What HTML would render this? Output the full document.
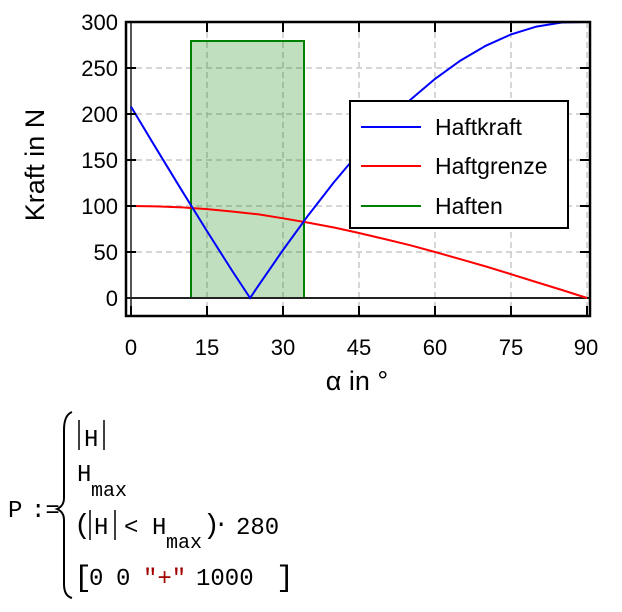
<!DOCTYPE html>
<html><head><meta charset="utf-8"><style>
html,body{margin:0;padding:0;background:#fff;width:622px;height:612px;overflow:hidden}
</style></head><body>
<svg width="622" height="612" xmlns="http://www.w3.org/2000/svg">
<g stroke="#c8c8c8" stroke-width="1.5" stroke-dasharray="6,4">
<line x1="207" y1="22" x2="207" y2="316"/><line x1="283" y1="22" x2="283" y2="316"/>
<line x1="359" y1="22" x2="359" y2="316"/><line x1="435" y1="22" x2="435" y2="316"/>
<line x1="511" y1="22" x2="511" y2="316"/><line x1="587" y1="22" x2="587" y2="316"/>
<line x1="126" y1="252" x2="590" y2="252"/><line x1="126" y1="206" x2="590" y2="206"/>
<line x1="126" y1="160" x2="590" y2="160"/><line x1="126" y1="114" x2="590" y2="114"/>
<line x1="126" y1="68" x2="590" y2="68"/>
</g>
<rect x="191" y="41" width="113" height="257" fill="rgba(0,128,0,0.25)" stroke="#008000" stroke-width="2"/>
<line x1="131" y1="22" x2="131" y2="316" stroke="#555" stroke-width="2"/>
<line x1="126" y1="298" x2="590" y2="298" stroke="#222" stroke-width="2"/>
<polyline fill="none" stroke="#f00" stroke-width="2" points="131,206 156,206.4 182,207.4 207,209.1 232,211.5 258,214.3 283,218.3 308,222.6 334,227.5 359,233 384,238.9 410,245.2 435,252 460,259.1 486,266.5 511,274.2 536,282 562,290 587,298"/>
<polyline fill="none" stroke="#00f" stroke-width="2" points="131,106.6 156.3,148.7 181.7,190.3 207,231.1 232.3,271 250.1,298 257.7,286.7 283,250 308.3,215.2 333.7,182.5 359,152.5 384.4,124.9 409.7,100.4 435,78.9 460.4,60.6 485.7,45.8 511,34.4 536.4,26.6 561.7,22.5 587,22"/>
<g stroke="#000" stroke-width="2">
<line x1="207" y1="22" x2="207" y2="32"/><line x1="283" y1="22" x2="283" y2="32"/><line x1="359" y1="22" x2="359" y2="32"/><line x1="435" y1="22" x2="435" y2="32"/><line x1="511" y1="22" x2="511" y2="32"/>
<line x1="131" y1="316" x2="131" y2="306"/><line x1="207" y1="316" x2="207" y2="306"/><line x1="283" y1="316" x2="283" y2="306"/><line x1="359" y1="316" x2="359" y2="306"/><line x1="435" y1="316" x2="435" y2="306"/><line x1="511" y1="316" x2="511" y2="306"/><line x1="587" y1="316" x2="587" y2="306"/>
<line x1="126" y1="252" x2="136" y2="252"/><line x1="126" y1="206" x2="136" y2="206"/><line x1="126" y1="160" x2="136" y2="160"/><line x1="126" y1="114" x2="136" y2="114"/><line x1="126" y1="68" x2="136" y2="68"/>
<line x1="590" y1="252" x2="580" y2="252"/><line x1="590" y1="206" x2="580" y2="206"/><line x1="590" y1="160" x2="580" y2="160"/><line x1="590" y1="114" x2="580" y2="114"/><line x1="590" y1="68" x2="580" y2="68"/>
</g>
<rect x="126" y="22" width="464" height="294" fill="none" stroke="#000" stroke-width="2.5"/>
<g font-family="Liberation Sans, sans-serif" font-size="22" fill="#000">
<g text-anchor="end">
<text x="118" y="30">300</text><text x="118" y="76">250</text><text x="118" y="122">200</text><text x="118" y="168">150</text><text x="118" y="214">100</text><text x="118" y="260">50</text><text x="118" y="306">0</text>
</g>
<g text-anchor="middle">
<text x="131" y="355">0</text><text x="207" y="355">15</text><text x="283" y="355">30</text><text x="359" y="355">45</text><text x="435" y="355">60</text><text x="511" y="355">75</text><text x="586" y="355">90</text>
<text x="357" y="390" font-size="27">α in °</text>
<text transform="translate(44,165) rotate(-90)" font-size="27">Kraft in N</text>
</g>
<rect x="350" y="101" width="218" height="127" fill="#fff" stroke="#000" stroke-width="2"/>
<line x1="361" y1="127" x2="421" y2="127" stroke="#00f" stroke-width="2"/>
<line x1="361" y1="166" x2="421" y2="166" stroke="#f00" stroke-width="2"/>
<line x1="361" y1="206" x2="421" y2="206" stroke="#008000" stroke-width="2"/>
<g font-size="23"><text x="435" y="135">Haftkraft</text><text x="435" y="174">Haftgrenze</text><text x="435" y="214">Haften</text></g>
</g>
<g font-family="Liberation Mono, monospace" font-size="24" fill="#000">
<text x="8" y="517">P</text><text x="31" y="517">:=</text>
<path d="M72,412 Q64,415 64,430 L64,498 Q64,506 57,509 Q64,512 64,520 L64,584 Q64,596 72,598" fill="none" stroke="#000" stroke-width="2"/>
<line x1="79" y1="420" x2="79" y2="450" stroke="#000" stroke-width="1.5"/>
<text x="84" y="446">H</text>
<line x1="104" y1="420" x2="104" y2="450" stroke="#000" stroke-width="1.5"/>
<text x="77" y="481">H</text><text x="91" y="496" font-size="20">max</text>
<text x="74" y="533" font-size="28">(</text>
<line x1="90" y1="510" x2="90" y2="540" stroke="#000" stroke-width="1.5"/>
<text x="94" y="534">H</text>
<line x1="115" y1="510" x2="115" y2="540" stroke="#000" stroke-width="1.5"/>
<text x="124" y="534">&lt;</text>
<text x="152" y="534">H</text><text x="166" y="548" font-size="20">max</text>
<text x="203" y="533" font-size="28">)</text>
<text x="214" y="531">·</text>
<text x="236" y="534">280</text>
<text x="74" y="586" font-size="30">[</text>
<text x="89" y="585">0</text><text x="116" y="585">0</text>
<text x="143" y="585" fill="#a00000">"+"</text>
<text x="196" y="585">1000</text>
<text x="276" y="586" font-size="30">]</text>
</g>
</svg>
</body></html>
